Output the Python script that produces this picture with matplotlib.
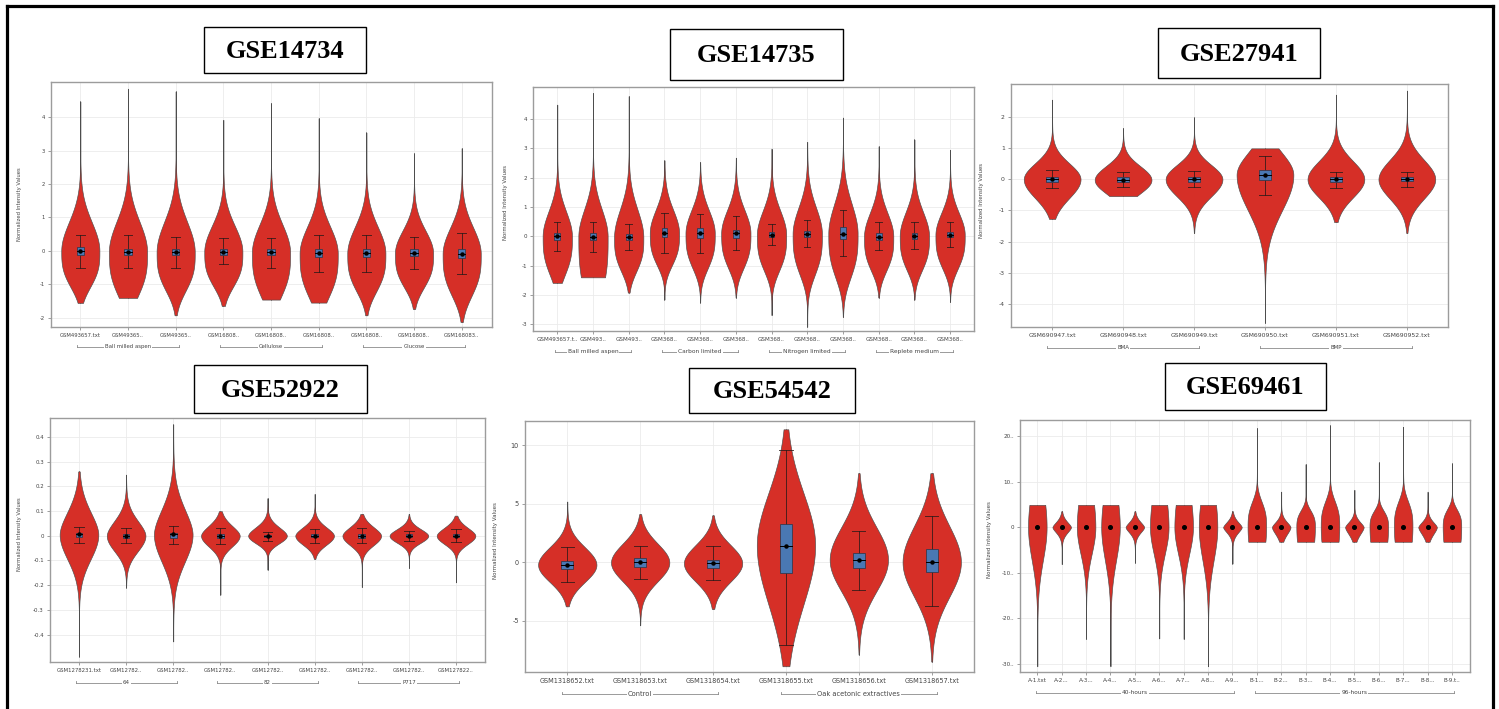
import numpy as np
import matplotlib
matplotlib.use("Agg")
import matplotlib.pyplot as plt
from matplotlib.patches import Rectangle
from matplotlib.lines import Line2D
from matplotlib.transforms import blended_transform_factory

plt.rcParams["axes.unicode_minus"] = False
plt.rcParams["font.family"] = ["DejaVu Sans"]

# ---------------- data ----------------
# GSE14734
gse14734_samples = ["GSM493657.txt", "GSM49365..", "GSM49365..", "GSM16808..", "GSM16808..",
                    "GSM16808..", "GSM16808..", "GSM16808..", "GSM168083.."]
gse14734_groups = [("Ball milled aspen", 0, 2), ("Cellulose", 3, 5), ("Glucose", 6, 8)]
gse14734_min = [-1.56, -1.41, -1.93, -1.65, -1.46, -1.55, -1.93, -1.74, -2.13]
gse14734_max = [4.47, 4.85, 4.77, 3.92, 4.42, 3.97, 3.54, 2.92, 3.07]
gse14734_median = [0.0, -0.03, -0.04, -0.03, -0.05, -0.08, -0.08, -0.07, -0.09]
gse14734_q1 = [-0.13, -0.12, -0.14, -0.12, -0.13, -0.19, -0.18, -0.16, -0.22]
gse14734_q3 = [0.10, 0.06, 0.06, 0.05, 0.04, 0.04, 0.04, 0.05, 0.05]
gse14734_whisk_lo = [-0.50, -0.50, -0.50, -0.40, -0.50, -0.62, -0.62, -0.53, -0.70]
gse14734_whisk_hi = [0.47, 0.47, 0.42, 0.37, 0.39, 0.48, 0.46, 0.40, 0.52]
gse14734_spread_up = [0.85, 0.90, 0.90, 0.77, 0.83, 0.80, 0.79, 0.67, 0.78]
gse14734_spread_dn = [0.99, 1.21, 1.06, 0.95, 1.22, 1.20, 1.04, 0.94, 1.15]

# GSE14735
gse14735_samples = ["GSM493657.t..", "GSM493..", "GSM493..", "GSM368..", "GSM368..", "GSM368..",
                    "GSM368..", "GSM368..", "GSM368..", "GSM368..", "GSM368..", "GSM368.."]
gse14735_groups = [("Ball milled aspen", 0, 2), ("Carbon limited", 3, 5),
                   ("Nitrogen limited", 6, 8), ("Replete medium", 9, 11)]
gse14735_min = [-1.59, -1.40, -1.92, -2.16, -2.26, -2.09, -2.69, -3.09, -2.75, -2.09, -2.16, -2.24]
gse14735_max = [4.49, 4.89, 4.78, 2.59, 2.53, 2.68, 2.99, 3.22, 4.05, 3.07, 3.30, 2.95]
gse14735_median = [0.0, -0.01, -0.04, 0.11, 0.10, 0.10, 0.05, 0.08, 0.09, -0.01, 0.01, 0.05]
gse14735_q1 = [-0.14, -0.13, -0.14, -0.03, -0.05, -0.05, -0.02, -0.03, -0.08, -0.12, -0.10, -0.02]
gse14735_q3 = [0.11, 0.10, 0.07, 0.28, 0.27, 0.21, 0.14, 0.17, 0.32, 0.10, 0.12, 0.14]
gse14735_whisk_lo = [-0.50, -0.52, -0.48, -0.58, -0.56, -0.48, -0.30, -0.38, -0.67, -0.48, -0.43, -0.38]
gse14735_whisk_hi = [0.49, 0.49, 0.43, 0.81, 0.77, 0.70, 0.43, 0.54, 0.88, 0.50, 0.47, 0.50]
gse14735_spread_up = [0.84, 0.92, 0.94, 0.78, 0.78, 0.78, 0.81, 0.89, 1.00, 0.80, 0.80, 0.74]
gse14735_spread_dn = [1.20, 1.90, 1.06, 1.00, 1.09, 1.09, 1.12, 1.27, 1.37, 1.07, 1.07, 1.06]

# GSE27941
gse27941_samples = ["GSM690947.txt", "GSM690948.txt", "GSM690949.txt",
                    "GSM690950.txt", "GSM690951.txt", "GSM690952.txt"]
gse27941_groups = [("BMA", 0, 2), ("BMP", 3, 5)]
gse27941_min = [-1.27, -0.54, -1.72, -4.60, -1.37, -1.72]
gse27941_max = [2.55, 1.64, 1.98, 0.99, 2.71, 2.84]
gse27941_median = [0.0, -0.02, 0.0, 0.14, 0.0, 0.0]
gse27941_q1 = [-0.08, -0.10, -0.08, -0.03, -0.08, -0.07]
gse27941_q3 = [0.08, 0.06, 0.08, 0.29, 0.08, 0.07]
gse27941_whisk_lo = [-0.28, -0.25, -0.25, -0.50, -0.27, -0.24]
gse27941_whisk_hi = [0.30, 0.22, 0.25, 0.73, 0.24, 0.24]
gse27941_spread_up = [0.51, 0.44, 0.46, 0.70, 0.58, 0.62]
gse27941_spread_dn = [0.60, 0.43, 0.55, 1.13, 0.58, 0.62]

# GSE52922
gse52922_samples = ["GSM1278231.txt", "GSM12782..", "GSM12782..", "GSM12782..", "GSM12782..",
                    "GSM12782..", "GSM12782..", "GSM12782..", "GSM127822.."]
gse52922_groups = [("64", 0, 2), ("82", 3, 5), ("P717", 6, 8)]
gse52922_min = [-0.489, -0.210, -0.428, -0.239, -0.138, -0.094, -0.208, -0.131, -0.189]
gse52922_max = [0.260, 0.247, 0.450, 0.099, 0.152, 0.169, 0.088, 0.088, 0.081]
gse52922_median = [0.005, 0.0, 0.005, 0.0, 0.0, 0.0, 0.0, 0.0, 0.0]
gse52922_q1 = [-0.005, -0.008, -0.009, -0.008, -0.004, -0.006, -0.008, -0.005, -0.006]
gse52922_q3 = [0.011, 0.007, 0.011, 0.007, 0.004, 0.006, 0.007, 0.005, 0.006]
gse52922_whisk_lo = [-0.030, -0.030, -0.035, -0.033, -0.020, -0.030, -0.028, -0.020, -0.025]
gse52922_whisk_hi = [0.035, 0.033, 0.040, 0.033, 0.015, 0.028, 0.030, 0.020, 0.026]
gse52922_spread_up = [0.090, 0.060, 0.100, 0.040, 0.034, 0.034, 0.035, 0.027, 0.032]
gse52922_spread_dn = [0.100, 0.063, 0.110, 0.044, 0.031, 0.037, 0.039, 0.029, 0.034]

# GSE54542
gse54542_samples = ["GSM1318652.txt", "GSM1318653.txt", "GSM1318654.txt",
                    "GSM1318655.txt", "GSM1318656.txt", "GSM1318657.txt"]
gse54542_groups = [("Control", 0, 2), ("Oak acetonic extractives", 3, 5)]
gse54542_min = [-3.78, -5.40, -4.00, -8.90, -7.90, -8.50]
gse54542_max = [5.18, 4.10, 4.00, 11.35, 7.60, 7.60]
gse54542_median = [-0.23, -0.03, -0.10, 1.42, 0.20, 0.0]
gse54542_q1 = [-0.60, -0.40, -0.50, -0.91, -0.51, -0.88]
gse54542_q3 = [0.09, 0.31, 0.20, 3.30, 0.74, 1.08]
gse54542_whisk_lo = [-1.70, -1.42, -1.56, -7.11, -2.36, -3.78]
gse54542_whisk_hi = [1.28, 1.35, 1.35, 9.59, 2.67, 3.98]
gse54542_spread_up = [1.50, 1.60, 1.55, 4.45, 2.77, 3.08]
gse54542_spread_dn = [1.46, 1.60, 1.55, 5.00, 2.68, 2.96]

# GSE69461
gse69461_samples = ["A-1.txt", "A-2...", "A-3...", "A-4...", "A-5...", "A-6...", "A-7...", "A-8...", "A-9...",
                    "B-1...", "B-2...", "B-3...", "B-4...", "B-5...", "B-6...", "B-7...", "B-8...", "B-9.t.."]
gse69461_groups = [("40-hours", 0, 8), ("96-hours", 9, 17)]
gse69461_min = [-30.5, -8.1, -24.5, -30.5, -7.8, -24.4, -24.5, -30.5, -8.0,
                -3.2, -3.2, -3.2, -3.2, -3.2, -3.2, -3.2, -3.2, -3.2]
gse69461_max = [4.9, 3.5, 4.9, 4.9, 3.5, 4.9, 4.9, 4.9, 3.5,
                21.7, 7.8, 13.8, 22.3, 8.2, 14.2, 22.0, 7.8, 14.0]
gse69461_median = [0.0] * 18
gse69461_spread_up = [8.8, 1.15, 8.8, 8.8, 1.15, 8.8, 8.8, 8.8, 1.15,
                      5.1, 1.15, 3.4, 5.2, 1.15, 3.3, 5.2, 1.15, 3.6]
gse69461_spread_dn = [7.2, 1.2, 5.8, 7.2, 1.2, 5.8, 5.8, 7.2, 1.2,
                      8.0, 1.6, 8.0, 8.0, 1.6, 8.0, 8.0, 1.6, 8.0]
gse69461_shape_up = [2, 1.6, 2, 2, 1.6, 2, 2, 2, 1.6, 3, 1.6, 3, 3, 1.6, 3, 3, 1.6, 3]
gse69461_shape_dn = [2, 1.6, 2, 2, 1.6, 2, 2, 2, 1.6, 2, 1.6, 2, 2, 1.6, 2, 2, 1.6, 2]

# ---------------- style ----------------
W_PX, H_PX = 1499, 709
RED = "#d62f27"
VIOLIN_EDGE = "#4d4d4d"
TAIL = "#3a3a3a"
BOX_FACE = "#4a78b3"
BOX_EDGE = "#2a3346"
WHISKER = "#2a1a18"
GRID = "#ebebeb"
SPINE = "#9c9c9c"
TICK_TXT = "#444444"

fig = plt.figure(figsize=(W_PX / 100, H_PX / 100), dpi=100)


def add_axes_px(x0, y0, x1, y1):
    return fig.add_axes([x0 / W_PX, 1 - y1 / H_PX, (x1 - x0) / W_PX, (y1 - y0) / H_PX])


def draw_violins(ax, vmin, vmax, med, s_up, s_dn, shape_up, shape_dn, half_w):
    n = len(vmin)
    for i in range(n):
        pu = shape_up[i] if isinstance(shape_up, list) else shape_up
        pd = shape_dn[i] if isinstance(shape_dn, list) else shape_dn
        y = np.linspace(vmin[i], vmax[i], 800)
        above = y >= med[i]
        s = np.where(above, s_up[i], s_dn[i])
        p = np.where(above, pu, pd)
        z = np.abs(y - med[i]) / s
        w = half_w * np.exp(-0.5 * z ** p)
        ax.plot([i, i], [vmin[i], vmax[i]], color=TAIL, lw=0.7, zorder=1.5, solid_capstyle="butt")
        ax.fill_betweenx(y, i - w, i + w, facecolor=RED, edgecolor=VIOLIN_EDGE, lw=0.45, zorder=2)


def draw_boxes(ax, med, q1, q3, wlo, whi, box_w=0.16, cap_w=0.18):
    for i in range(len(med)):
        ax.plot([i, i], [wlo[i], whi[i]], color=WHISKER, lw=0.7, alpha=0.8, zorder=3)
        for v in (wlo[i], whi[i]):
            ax.plot([i - cap_w / 2, i + cap_w / 2], [v, v], color=WHISKER, lw=0.7, alpha=0.8, zorder=3)
        ax.add_patch(Rectangle((i - box_w / 2, q1[i]), box_w, q3[i] - q1[i],
                               facecolor=BOX_FACE, edgecolor=BOX_EDGE, lw=0.5, zorder=4))
        ax.plot([i - box_w / 2, i + box_w / 2], [med[i], med[i]], color="black", lw=0.7, zorder=5)
    ax.plot(range(len(med)), med, "o", color="black", ms=2.2, zorder=6, ls="none")


def style_axes(ax, samples, ylim, yticks, ytick_labels, xlim, fs):
    ax.set_xlim(*xlim)
    ax.set_ylim(*ylim)
    ax.set_xticks(range(len(samples)))
    ax.set_xticklabels(samples, fontsize=fs, color=TICK_TXT)
    ax.set_yticks(yticks)
    ax.set_yticklabels(ytick_labels, fontsize=fs, color=TICK_TXT)
    ax.grid(True, color=GRID, lw=0.6, zorder=0)
    ax.set_axisbelow(True)
    for sp in ax.spines.values():
        sp.set_color(SPINE)
        sp.set_linewidth(1.0)
    ax.tick_params(length=2.2, width=0.5, color="#777777", pad=2.2)


def add_groups(ax, groups, fs, offset_px=21):
    trans = blended_transform_factory(ax.transData, ax.transAxes)
    h_px = ax.get_position().height * H_PX
    yf = -offset_px / h_px
    tick = 2.0 / h_px
    for label, a, b in groups:
        x0, x1 = a - 0.07, b + 0.07
        ax.plot([x0, x1], [yf, yf], transform=trans, clip_on=False, color="#8a8a8a", lw=0.6)
        for xe in (x0, x1):
            ax.plot([xe, xe], [yf, yf + tick], transform=trans, clip_on=False, color="#8a8a8a", lw=0.6)
        ax.text((a + b) / 2, yf, label, transform=trans, ha="center", va="center", fontsize=fs,
                color=TICK_TXT, bbox=dict(facecolor="white", edgecolor="none", pad=0.8))


def title_box(x0, y0, x1, y1, text):
    fig.add_artist(Rectangle((x0 / W_PX, 1 - y1 / H_PX), (x1 - x0) / W_PX, (y1 - y0) / H_PX,
                             transform=fig.transFigure, fill=False, edgecolor="black", lw=1.0))
    fig.text((x0 + x1) / 2 / W_PX, 1 - ((y0 + y1) / 2 + 1.5) / H_PX, text, ha="center", va="center",
             fontsize=19, fontweight="bold", family="Liberation Serif", color="black")


def ylabel_at(x, y, fs):
    fig.text(x / W_PX, 1 - y / H_PX, "Normalized Intensity Values", rotation=90, ha="center",
             va="center", fontsize=fs, color=TICK_TXT)


def fmt(vals):
    return ["%g" % v for v in vals]


# ---------------- panels ----------------
# GSE14734
ax1 = add_axes_px(51, 82, 492, 327)
draw_violins(ax1, gse14734_min, gse14734_max, gse14734_median, gse14734_spread_up,
             gse14734_spread_dn, 2, 3, 0.40)
draw_boxes(ax1, gse14734_median, gse14734_q1, gse14734_q3, gse14734_whisk_lo, gse14734_whisk_hi)
t1 = [-2, -1, 0, 1, 2, 3, 4]
style_axes(ax1, gse14734_samples, (-2.28, 5.05), t1, fmt(t1), (-0.615, 8.636), 3.8)
add_groups(ax1, gse14734_groups, 3.9, 20)
ylabel_at(20, 204, 3.8)
title_box(204, 27, 366, 73, "GSE14734")

# GSE14735
ax2 = add_axes_px(533, 87, 974, 331)
draw_violins(ax2, gse14735_min, gse14735_max, gse14735_median, gse14735_spread_up,
             gse14735_spread_dn, 2, 3, 0.41)
draw_boxes(ax2, gse14735_median, gse14735_q1, gse14735_q3, gse14735_whisk_lo, gse14735_whisk_hi)
t2 = [-3, -2, -1, 0, 1, 2, 3, 4]
style_axes(ax2, gse14735_samples, (-3.23, 5.09), t2, fmt(t2), (-0.68, 11.67), 4.1)
add_groups(ax2, gse14735_groups, 4.2, 21)
ylabel_at(505, 203, 3.9)
title_box(670, 29, 843, 80, "GSE14735")

# GSE27941
ax3 = add_axes_px(1011, 84, 1448, 327)
draw_violins(ax3, gse27941_min, gse27941_max, gse27941_median, gse27941_spread_up,
             gse27941_spread_dn, 2, 2, 0.40)
draw_boxes(ax3, gse27941_median, gse27941_q1, gse27941_q3, gse27941_whisk_lo, gse27941_whisk_hi,
           box_w=0.17, cap_w=0.17)
t3 = [-4, -3, -2, -1, 0, 1, 2]
style_axes(ax3, gse27941_samples, (-4.73, 3.05), t3, fmt(t3), (-0.58, 5.58), 4.4)
add_groups(ax3, gse27941_groups, 4.0, 21)
ylabel_at(982, 200, 3.9)
title_box(1158, 28, 1320, 78, "GSE27941")

# GSE52922
ax4 = add_axes_px(50, 418, 485, 662)
draw_violins(ax4, gse52922_min, gse52922_max, gse52922_median, gse52922_spread_up,
             gse52922_spread_dn, 1.8, 2, 0.41)
draw_boxes(ax4, gse52922_median, gse52922_q1, gse52922_q3, gse52922_whisk_lo, gse52922_whisk_hi,
           box_w=0.14, cap_w=0.2)
t4 = [-0.4, -0.3, -0.2, -0.1, 0, 0.1, 0.2, 0.3, 0.4]
style_axes(ax4, gse52922_samples, (-0.511, 0.476), t4, fmt(t4), (-0.615, 8.615), 3.9)
add_groups(ax4, gse52922_groups, 4.0, 21)
ylabel_at(20, 534, 3.8)
title_box(194, 365, 367, 413, "GSE52922")

# GSE54542
ax5 = add_axes_px(525, 421, 974, 672)
draw_violins(ax5, gse54542_min, gse54542_max, gse54542_median, gse54542_spread_up,
             gse54542_spread_dn, 2, 2, 0.40)
draw_boxes(ax5, gse54542_median, gse54542_q1, gse54542_q3, gse54542_whisk_lo, gse54542_whisk_hi,
           box_w=0.16, cap_w=0.18)
t5 = [-5, 0, 5, 10]
style_axes(ax5, gse54542_samples, (-9.39, 12.06), t5, fmt(t5), (-0.58, 5.58), 4.7)
add_groups(ax5, gse54542_groups, 4.8, 22)
ylabel_at(495, 541, 4.0)
title_box(689, 368, 855, 413, "GSE54542")

# GSE69461
ax6 = add_axes_px(1020, 420, 1470, 672)
draw_violins(ax6, gse69461_min, gse69461_max, gse69461_median, gse69461_spread_up,
             gse69461_spread_dn, gse69461_shape_up, gse69461_shape_dn, 0.38)
ax6.plot(range(len(gse69461_median)), gse69461_median, "o", color="black", ms=2.6, zorder=6, ls="none")
t6 = [-30, -20, -10, 0, 10, 20]
style_axes(ax6, gse69461_samples, (-31.75, 23.5), t6,
           ["-30..", "-20..", "-10..", "0", "10..", "20.."], (-0.71, 17.74), 4.1)
add_groups(ax6, gse69461_groups, 4.2, 21)
ylabel_at(990, 540, 4.0)
title_box(1165, 363, 1326, 410, "GSE69461")

# outer frame (open at the bottom)
for xs, ys in [((6.5, 6.5), (6, 720)), ((1492.5, 1492.5), (6, 720)), ((6.5, 1492.5), (6, 6))]:
    fig.add_artist(Line2D([x / W_PX for x in xs], [1 - y / H_PX for y in ys],
                          transform=fig.transFigure, color="black", lw=2.3))

fig.savefig("out.png", dpi=100)
